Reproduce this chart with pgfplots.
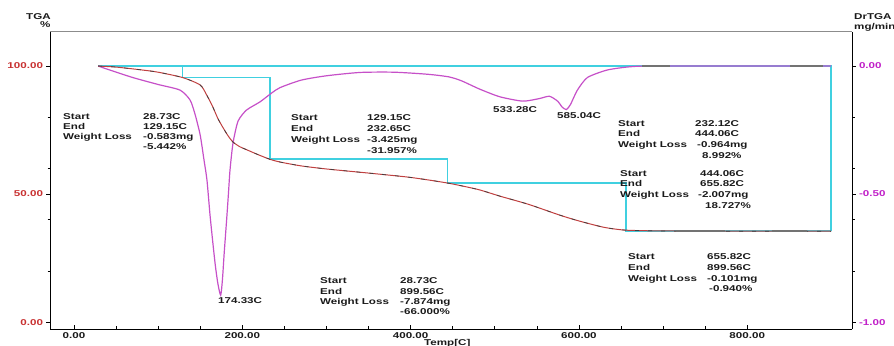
\documentclass[border=0pt]{standalone}
\usepackage{fontspec}
\setmainfont{Liberation Sans}[FakeStretch=1.37]
\usepackage{pgfplots}
\pgfplotsset{compat=1.18}

\definecolor{tgacol}{HTML}{C04040}
\definecolor{dtgcol}{HTML}{C650C8}
\definecolor{stepcol}{HTML}{40D0E0}
\definecolor{lred}{HTML}{C83232}
\definecolor{rmag}{HTML}{C020C8}
\definecolor{txt}{HTML}{1A1A1A}

\newcommand{\lfont}{\bfseries\fontsize{8.5}{10}\selectfont}
\newcommand{\lb}[3]{\node[anchor=mid west,inner sep=0pt,font=\lfont,text=txt] at ({#1bp-50bp},{329bp-#2bp}) {#3};}

\begin{document}
\begin{tikzpicture}
\begin{axis}[
  scale only axis, width=802bp, height=297bp,
  xmin=-28.5, xmax=924.5, ymin=-2.7, ymax=113.3,
  axis x line*=bottom, axis y line*=left,
  axis line style={black, line width=1bp},
  xtick={0,200,400,600,800},
  xticklabels={0.00,200.00,400.00,600.00,800.00},
  minor x tick num=3,
  ytick={0,50,100}, yticklabels={0.00,50.00,100.00},
  minor ytick={20,40,60,80},
  xtick align=inside, ytick align=outside,
  major tick length=3.5bp, minor tick length=2.5bp,
  tick style={black, line width=0.6bp},
  x tick label style={font=\lfont, text=txt},
  y tick label style={font=\lfont, text=lred},
  /pgf/number format/assume math mode=true,
  clip=false,
]
% step (weight-loss) lines
\addplot[color=stepcol, line width=1.5bp] coordinates {(28.73,100)(899.56,100)(899.56,35.6)};
\addplot[color=stepcol, line width=1.5bp] coordinates {(129.15,100)(129.15,95.5)(232.65,95.5)(232.65,63.6)(444.06,63.6)(444.06,54.3)(655.82,54.3)(655.82,35.6)(899.56,35.6)};

% DrTGA curve (left-axis units: 100 + 100*DrTGA)
\addplot[dtgcol, line width=1.2bp, smooth, tension=0.4] coordinates {
(28.73,100)(43,98.4)(70,95.5)(100,92.8)(126,90.6)(138,86.7)(144,81)(150,73)
(154.5,63.3)(158,55.5)(161.6,42)(165,31)(168,22)(171,15)(174.33,10.5)
(176.5,17)(178.5,27)(181.4,40)(183.5,50)(185.4,59.4)(189,70)(195,78.5)
(205,82.8)(221,86)(235,89.5)(245,91.6)(270,94.5)(300,96.2)(340,97.5)
(380,97.6)(420,96.8)(445,95.8)(460,94.3)(482,91)(506,88)(533.28,86.3)
(553,87.3)(565,88.2)(575,86.2)(580,84)(585.04,83)(590,85)(598,90.5)
(610,95.5)(633,98.4)(657,99.6)(681,100)(780,100)(899.56,100)};

% TGA curve
\addplot[tgacol, line width=1bp, smooth, tension=0.4] coordinates {
(28.73,100)(50,99.6)(80,98.5)(100,97.6)(129.15,95.5)(150,92.6)(158,88.5)
(165,84)(171,79.5)(177,76)(183,72.8)(189,70.3)(197,68.5)(206,67.2)(218,65.5)
(232.65,63.6)(245,62.5)(270,61)(300,59.8)(350,58.2)(400,56.5)(444.06,54.3)
(480,51.8)(506,49.2)(540,46)(577,41.8)(600,39.5)(630,37)(655.82,35.9)
(700,35.6)(800,35.5)(899.56,35.5)};
\addplot[black!75, line width=0.7bp, smooth, tension=0.4, dash pattern=on 4bp off 9bp] coordinates {
(28.73,100)(50,99.6)(80,98.5)(100,97.6)(129.15,95.5)(150,92.6)(158,88.5)
(165,84)(171,79.5)(177,76)(183,72.8)(189,70.3)(197,68.5)(206,67.2)(218,65.5)
(232.65,63.6)(245,62.5)(270,61)(300,59.8)(350,58.2)(400,56.5)(444.06,54.3)
(480,51.8)(506,49.2)(540,46)(577,41.8)(600,39.5)(630,37)(655.82,35.9)
(700,35.6)(800,35.5)(899.56,35.5)};

% darker overlapping segments on the plateaus
\addplot[black!55, line width=1.5bp] coordinates {(675,100)(708,100)};
\addplot[black!55, line width=1.5bp] coordinates {(851,100)(890,100)};
\addplot[black!55, line width=1.5bp] coordinates {(715,35.5)(774,35.5)};
\addplot[black!55, line width=1.5bp] coordinates {(829,35.5)(871,35.5)};

\draw[black!45, line width=1bp] (rel axis cs:0,1) -- (rel axis cs:1,1);
\end{axis}

\begin{axis}[
  scale only axis, width=802bp, height=297bp,
  xmin=-28.5, xmax=924.5, ymin=-1.027, ymax=0.133,
  axis x line=none, axis y line*=right,
  axis line style={black, line width=1bp},
  ytick={-1,-0.5,0}, yticklabels={-1.00,-0.50,0.00},
  minor ytick={-0.8,-0.6,-0.4,-0.2},
  ytick align=outside,
  major tick length=3.5bp, minor tick length=2.5bp,
  tick style={black, line width=0.6bp},
  y tick label style={font=\lfont, text=rmag},
  /pgf/number format/assume math mode=true,
]
\end{axis}

% annotation blocks
\lb{63}{117}{Start}\lb{143}{117}{28.73C}
\lb{63}{127}{End}\lb{143}{127}{129.15C}
\lb{63}{137}{Weight Loss}\lb{143}{137}{-0.583mg}
\lb{143}{147}{-5.442\%}

\lb{291}{118}{Start}\lb{367}{118}{129.15C}
\lb{291}{129}{End}\lb{367}{129}{232.65C}
\lb{291}{140}{Weight Loss}\lb{367}{140}{-3.425mg}
\lb{367}{151}{-31.957\%}

\lb{618}{124}{Start}\lb{695}{124}{232.12C}
\lb{618}{134}{End}\lb{695}{134}{444.06C}
\lb{618}{145}{Weight Loss}\lb{697}{145}{-0.964mg}
\lb{702}{156}{8.992\%}

\lb{620}{174}{Start}\lb{700}{174}{444.06C}
\lb{620}{184}{End}\lb{700}{184}{655.82C}
\lb{620}{195}{Weight Loss}\lb{698}{195}{-2.007mg}
\lb{705}{206}{18.727\%}

\lb{628}{257}{Start}\lb{707}{257}{655.82C}
\lb{628}{268}{End}\lb{707}{268}{899.56C}
\lb{628}{279}{Weight Loss}\lb{707}{279}{-0.101mg}
\lb{709}{289}{-0.940\%}

\lb{320}{281}{Start}\lb{400}{281}{28.73C}
\lb{320}{292}{End}\lb{400}{292}{899.56C}
\lb{320}{302}{Weight Loss}\lb{400}{302}{-7.874mg}
\lb{400}{312}{-66.000\%}

\lb{218}{301}{174.33C}
\lb{493}{110}{533.28C}
\lb{557}{116}{585.04C}

\lb{26}{17}{TGA}
\lb{40}{25}{\%}
\lb{854}{17}{DrTGA}
\lb{854}{27}{mg/min}
\lb{424}{343}{Temp[C]}

\pgfresetboundingbox
\useasboundingbox (-50bp,-17bp) rectangle (844bp,329bp);
\end{tikzpicture}
\end{document}
